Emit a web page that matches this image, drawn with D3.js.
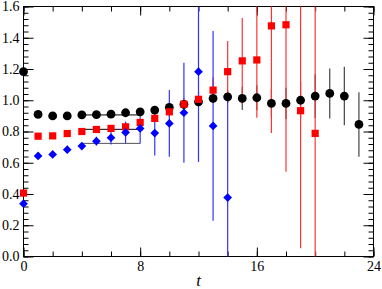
<!DOCTYPE html>
<html>
<head>
<meta charset="utf-8">
<script src="https://cdn.jsdelivr.net/npm/d3@7"></script>
<style>
  body { margin: 0; background: #fff; }
</style>
</head>
<body>
<div id="chart"></div>
<script>
// data
const blackT = d3.range(0, 24);
const blackY = [1.183, 0.909, 0.900, 0.900, 0.906, 0.908, 0.911, 0.920, 0.926, 0.937, 0.954, 0.974,
                0.990, 1.012, 1.022, 1.012, 1.016, 0.980, 0.980, 1.000, 1.027, 1.044, 1.027, 0.845];
const blackErr = [0.01, 0.006, 0.006, 0.006, 0.006, 0.006, 0.007, 0.008, 0.01, 0.012, 0.015, 0.02,
                  0.025, 0.03, 0.04, 0.075, 0.08, 0.09, 0.1, 0.12, 0.14, 0.16, 0.187, 0.206];

const redT = d3.range(0, 21);
const redY = [0.406, 0.770, 0.772, 0.787, 0.800, 0.813, 0.820, 0.830, 0.858, 0.884, 0.926, 0.975,
              1.006, 1.065, 1.183, 1.252, 1.258, 1.476, 1.483, 0.933, 0.788];
const redErr = [0.005, 0.005, 0.005, 0.006, 0.007, 0.01, 0.012, 0.015, 0.02, 0.025, 0.03, 0.04,
                0.05, 0.08, 0.197, 0.274, 0.37, 0.685, 0.94, 0.88, 1.0];

const blueT = d3.range(0, 15);
const blueY = [0.338, 0.644, 0.653, 0.684, 0.707, 0.738, 0.760, 0.794, 0.820, 0.790, 0.852, 0.920,
               1.183, 0.836, 0.377];
const blueErr = [0.005, 0.005, 0.008, 0.01, 0.02, 0.028, 0.043, 0.07, 0.096, 0.143, 0.214, 0.32,
                 0.578, 0.607, 0.625];

// plateau fits (t from, t to, value)
const fitFrom = [4, 4, 4];
const fitTo = [8, 8, 8];
const fitVal = [0.906, 0.814, 0.724];

const xTicks = [0, 8, 16, 24];
const yTicks = [0, 0.2, 0.4, 0.6, 0.8, 1.0, 1.2, 1.4, 1.6];

const W = 382, H = 289;
const FONT = '"Liberation Serif", "Times New Roman", "DejaVu Serif", serif';
const x = d3.scaleLinear().domain([0, 24]).range([23.5, 373.5]);
const y = d3.scaleLinear().domain([0, 1.6]).range([256.5, 6.5]);

const svg = d3.select("#chart").append("svg")
    .attr("width", W).attr("height", H);

// frame
svg.append("rect")
    .attr("x", x(0)).attr("y", y(1.6))
    .attr("width", x(24) - x(0)).attr("height", y(0) - y(1.6))
    .attr("fill", "none").attr("stroke", "#000").attr("stroke-width", 1);

// axes: major ticks with labels, minor ticks without, all pointing inward
const xMinor = d3.range(0, 24.01, 2);
const yMinor = d3.range(0, 1.601, 0.04);

function styleAxis(g) {
    g.attr("font-family", FONT).attr("font-size", 14);
    g.select(".domain").remove();
    g.selectAll("line").attr("stroke", "#000");
    g.selectAll("text").attr("fill", "#000");
}

svg.append("g").attr("transform", `translate(0,${y(0)})`)
    .call(d3.axisBottom(x).tickValues(xMinor).tickSize(-5).tickFormat(""))
    .call(styleAxis);
svg.append("g").attr("transform", `translate(0,${y(0)})`)
    .call(d3.axisBottom(x).tickValues(xTicks).tickSize(-9).tickPadding(5).tickFormat(d3.format("d")))
    .call(styleAxis);
svg.append("g").attr("transform", `translate(0,${y(1.6)})`)
    .call(d3.axisTop(x).tickValues(xMinor).tickSize(-5).tickFormat(""))
    .call(styleAxis);
svg.append("g").attr("transform", `translate(0,${y(1.6)})`)
    .call(d3.axisTop(x).tickValues(xTicks).tickSize(-9).tickFormat(""))
    .call(styleAxis);

svg.append("g").attr("transform", `translate(${x(0)},0)`)
    .call(d3.axisLeft(y).tickValues(yMinor).tickSize(-5).tickFormat(""))
    .call(styleAxis);
svg.append("g").attr("transform", `translate(${x(0)},0)`)
    .call(d3.axisLeft(y).tickValues(yTicks).tickSize(-10).tickPadding(4).tickFormat(d3.format(".1f")))
    .call(styleAxis);
svg.append("g").attr("transform", `translate(${x(24)},0)`)
    .call(d3.axisRight(y).tickValues(yMinor).tickSize(-5).tickFormat(""))
    .call(styleAxis);
svg.append("g").attr("transform", `translate(${x(24)},0)`)
    .call(d3.axisRight(y).tickValues(yTicks).tickSize(-10).tickFormat(""))
    .call(styleAxis);

svg.append("text")
    .attr("x", x(12)).attr("y", 286)
    .attr("text-anchor", "middle")
    .attr("font-family", FONT)
    .attr("font-size", 17).attr("font-style", "italic")
    .text("t");

// error bars and fit lines are clipped to the frame, markers are not
svg.append("clipPath").attr("id", "clip")
    .append("rect")
    .attr("x", x(0)).attr("y", y(1.6))
    .attr("width", x(24) - x(0)).attr("height", y(0) - y(1.6));
const plot = svg.append("g").attr("clip-path", "url(#clip)");
const marks = svg.append("g");

const series = [
    { t: blackT, v: blackY, e: blackErr, color: "#000", bar: "#444", shape: "circle" },
    { t: redT, v: redY, e: redErr, color: "#ff0000", bar: "#ff3333", shape: "square" },
    { t: blueT, v: blueY, e: blueErr, color: "#0000ff", bar: "#3333ff", shape: "diamond" }
];

// fit lines
plot.selectAll(".fit")
    .data(fitVal)
    .enter().append("line")
    .attr("class", "fit")
    .attr("x1", (d, i) => x(fitFrom[i]))
    .attr("x2", (d, i) => x(fitTo[i]))
    .attr("y1", d => y(d))
    .attr("y2", d => y(d))
    .attr("stroke", (d, i) => i === 2 ? "#555" : "#000")
    .attr("stroke-width", 1);

series.forEach(s => {
    plot.append("g").selectAll("line")
        .data(s.t)
        .enter().append("line")
        .attr("x1", d => x(d)).attr("x2", d => x(d))
        .attr("y1", (d, i) => y(s.v[i] - s.e[i]))
        .attr("y2", (d, i) => y(s.v[i] + s.e[i]))
        .attr("stroke", s.bar)
        .attr("stroke-width", 1.2);
});

series.forEach(s => {
    const g = marks.append("g");
    if (s.shape === "circle") {
        g.selectAll("circle").data(s.t).enter().append("circle")
            .attr("cx", d => x(d)).attr("cy", (d, i) => y(s.v[i]))
            .attr("r", 4.4).attr("fill", s.color);
    } else if (s.shape === "square") {
        g.selectAll("rect").data(s.t).enter().append("rect")
            .attr("x", d => x(d) - 3.6).attr("y", (d, i) => y(s.v[i]) - 3.6)
            .attr("width", 7.2).attr("height", 7.2).attr("fill", s.color);
    } else {
        const sym = d3.symbol(d3.symbolSquare, 38);
        g.selectAll("path").data(s.t).enter().append("path")
            .attr("d", sym)
            .attr("transform", (d, i) => `translate(${x(d)},${y(s.v[i])}) rotate(45)`)
            .attr("fill", s.color);
    }
});
</script>
</body>
</html>
